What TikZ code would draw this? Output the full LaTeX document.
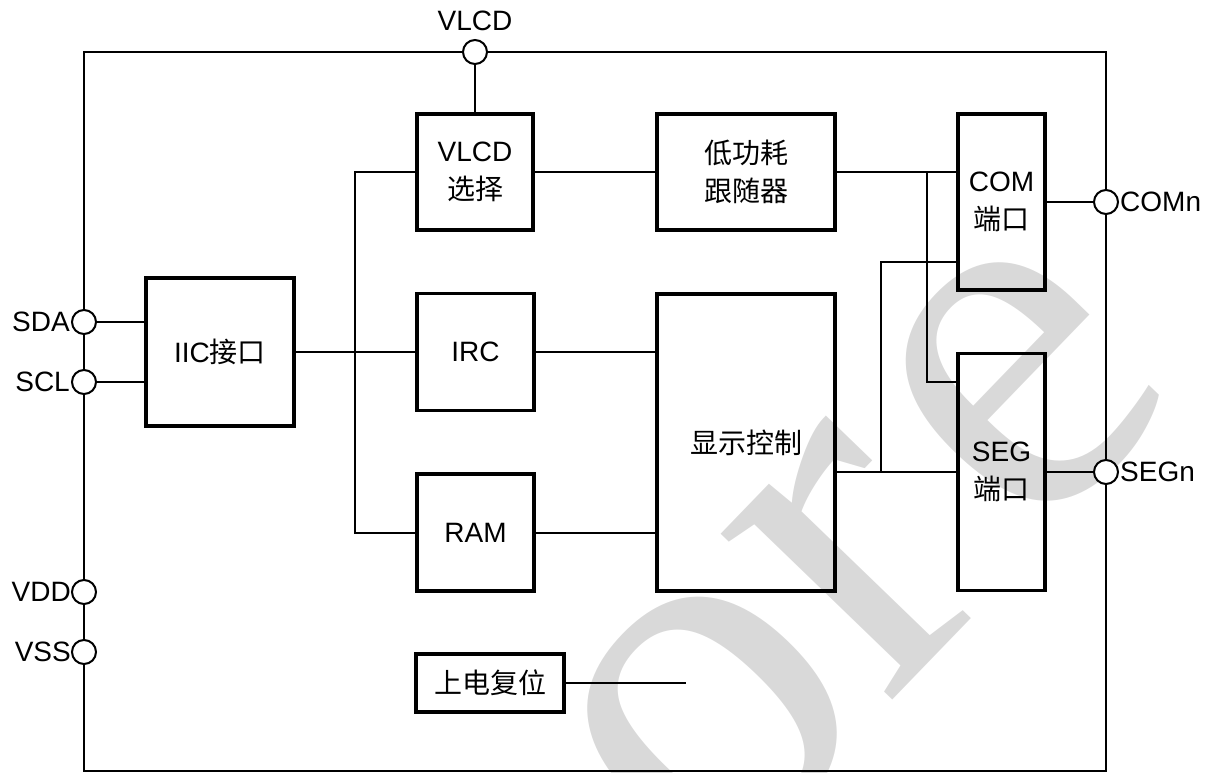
\documentclass[tikz,border=0pt]{standalone}
\usepackage{fontspec}
\setmainfont{Liberation Sans}
\newfontfamily\cjk{Noto Sans CJK SC}
\newfontfamily\wmfont{Liberation Serif}
\definecolor{wmgray}{HTML}{D9D9D9}
\begin{document}
\begin{tikzpicture}[x=1pt,y=-1pt,
  blk/.style={draw, line width=3.5pt, inner sep=0pt, align=center, font=\fontsize{28}{38}\selectfont},
  pin/.style={circle, draw, fill=white, line width=2pt, minimum size=24pt, inner sep=0pt},
  wire/.style={line width=2pt},
  lbl/.style={inner sep=0pt, font=\fontsize{28}{32}\selectfont},
  wm/.style={text=wmgray, inner sep=0pt, font=\fontsize{520}{520}\wmfont, rotate=46}]
\useasboundingbox (0,0) rectangle (1219,773);
% watermark
\begin{scope}
\clip (0,0) rectangle (1219,773);
\node[wm] (wmo) at (712,722) {o};
\node[wm] (wmr) at (858,560) {r};
\node[wm] (wme) at (1022,385) {e};
\end{scope}
% outer frame
\draw[line width=2pt] (84,52) rectangle (1106,771);
% blocks
\node[blk, minimum width=116pt, minimum height=116pt] (vsel) at (475,172) {VLCD\\{\cjk 选择}};
\node[blk, minimum width=178pt, minimum height=116pt] (low) at (746,172) {{\cjk 低功耗}\\{\cjk 跟随器}};
\node[blk, minimum width=87pt, minimum height=176pt] (com) at (1001.5,202) {COM\\{\cjk 端口}};
\node[blk, minimum width=148pt, minimum height=148pt] (iic) at (220,352) {IIC{\cjk 接口}};
\node[blk, minimum width=117pt, minimum height=117pt] (irc) at (475.5,352) {IRC};
\node[blk, minimum width=178pt, minimum height=297pt] (disp) at (746,442.5) {{\cjk 显示控制}};
\node[blk, minimum width=117pt, minimum height=117pt] (ram) at (475.5,532.5) {RAM};
\node[blk, minimum width=87pt, minimum height=237pt] (seg) at (1001.5,472) {SEG\\{\cjk 端口}};
\node[blk, minimum width=148pt, minimum height=58pt] (rstb) at (490,683) {{\cjk 上电复位}};
% coordinates
\coordinate (ja) at (355,172);
\coordinate (jc) at (927,172);
\coordinate (jd) at (927,382);
\coordinate (je) at (881,472);
\coordinate (jf) at (881,262);
\coordinate (rst) at (686,683);
% pins
\node[pin] (vlcdp) at (475,52) {};
\node[pin] (sdap) at (84,322) {};
\node[pin] (sclp) at (84,382) {};
\node[pin] (vddp) at (84,592) {};
\node[pin] (vssp) at (84,652) {};
\node[pin] (comp) at (1106,202) {};
\node[pin] (segp) at (1106,472) {};
% pin labels
\node[lbl, anchor=south] (vlcdl) at (475,31) {VLCD};
\node[lbl, anchor=east] (sdal) at (70,322) {SDA};
\node[lbl, anchor=east] (scll) at (70,382) {SCL};
\node[lbl, anchor=east] (vddl) at (71,592) {VDD};
\node[lbl, anchor=east] (vssl) at (71,652) {VSS};
\node[lbl, anchor=west] (coml) at (1120,202) {COMn};
\node[lbl, anchor=west] (segl) at (1120,472) {SEGn};
% wires
\draw[wire] (vlcdp) -- (vsel.north);
\draw[wire] (sdap) -- (iic.west |- sdap);
\draw[wire] (sclp) -- (iic.west |- sclp);
\draw[wire] (iic.east) -- (irc.west);
\draw[wire] (vsel.west) -- (ja) |- (ram.west);
\draw[wire] (irc.east) -- (disp.west |- irc.east);
\draw[wire] (ram.east) -- (disp.west |- ram.east);
\draw[wire] (vsel.east) -- (low.west);
\draw[wire] (low.east) -- (com.west |- low.east);
\draw[wire] (jc) -- (jd) -- (seg.west |- jd);
\draw[wire] (disp.east |- je) -- (seg.west |- je);
\draw[wire] (je) -- (jf) -- (com.west |- jf);
\draw[wire] (com.east) -- (comp);
\draw[wire] (seg.east) -- (segp);
\draw[wire] (rstb.east) -- (rst);
\end{tikzpicture}
\end{document}
